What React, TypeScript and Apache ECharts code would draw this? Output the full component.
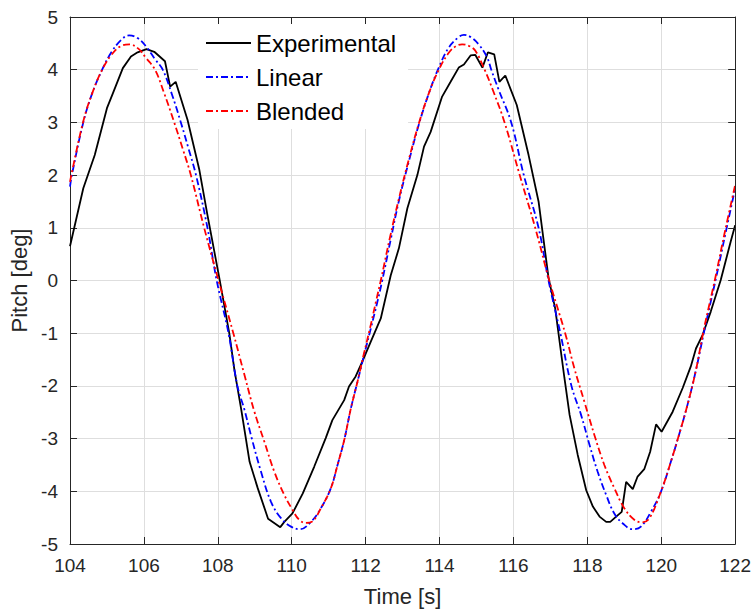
import React, { useEffect, useRef } from "react";
import * as echarts from "echarts";

// Experimental (black)
const timeExp = [104.0, 104.36, 104.67, 105.0, 105.16, 105.43, 105.65, 105.83, 106.07, 106.28, 106.57, 106.71, 106.86, 107.18, 107.5, 107.72, 108.04, 108.31, 108.45, 108.63, 108.86, 109.08, 109.36, 109.69, 109.8, 110.02, 110.3, 110.61, 110.92, 111.1, 111.42, 111.55, 111.73, 111.91, 112.14, 112.41, 112.68, 112.9, 113.13, 113.4, 113.58, 113.76, 114.07, 114.3, 114.52, 114.66, 114.84, 114.97, 115.16, 115.31, 115.48, 115.62, 115.78, 116.09, 116.41, 116.68, 116.95, 117.13, 117.31, 117.38, 117.52, 117.74, 117.97, 118.15, 118.33, 118.51, 118.62, 118.78, 118.93, 119.05, 119.23, 119.36, 119.54, 119.7, 119.86, 120.01, 120.31, 120.58, 120.8, 120.94, 121.12, 121.34, 121.61, 121.88, 122.0];
const pitchExp = [0.65, 1.75, 2.38, 3.27, 3.55, 4.03, 4.25, 4.33, 4.39, 4.34, 4.16, 3.68, 3.77, 3.05, 2.1, 1.24, 0.05, -1.0, -1.7, -2.43, -3.44, -3.94, -4.52, -4.68, -4.58, -4.42, -4.04, -3.53, -2.99, -2.65, -2.27, -2.01, -1.82, -1.54, -1.16, -0.72, 0.1, 0.61, 1.37, 2.0, 2.54, 2.82, 3.49, 3.77, 4.04, 4.1, 4.27, 4.28, 4.04, 4.33, 4.29, 3.77, 3.89, 3.33, 2.38, 1.5, 0.05, -0.53, -1.48, -1.85, -2.55, -3.31, -3.98, -4.29, -4.48, -4.58, -4.58, -4.48, -4.39, -3.82, -3.96, -3.72, -3.58, -3.25, -2.73, -2.87, -2.49, -2.04, -1.63, -1.29, -1.03, -0.59, 0.01, 0.74, 1.05];

// Linear (blue)
const timeLin = [104.0, 104.05, 104.36, 104.6, 104.87, 105.12, 105.38, 105.6, 105.83, 106.06, 106.3, 106.51, 106.75, 107.0, 107.2, 107.41, 107.72, 107.97, 108.29, 108.53, 108.72, 108.92, 109.17, 109.44, 109.71, 109.98, 110.22, 110.52, 110.79, 111.06, 111.24, 111.42, 111.6, 111.78, 111.96, 112.14, 112.32, 112.45, 112.68, 112.9, 113.17, 113.44, 113.71, 113.98, 114.25, 114.52, 114.66, 114.84, 115.06, 115.29, 115.4, 115.6, 115.94, 116.28, 116.68, 116.95, 117.27, 117.57, 117.83, 118.06, 118.28, 118.51, 118.73, 118.96, 119.23, 119.45, 119.72, 119.99, 120.26, 120.48, 120.71, 120.93, 121.16, 121.34, 121.48, 121.75, 122.0];
const pitchLin = [1.78, 2.0, 3.0, 3.55, 4.0, 4.33, 4.56, 4.65, 4.6, 4.44, 4.2, 4.0, 3.55, 3.0, 2.52, 2.0, 1.0, 0.0, -1.0, -2.0, -2.45, -3.0, -3.63, -4.2, -4.51, -4.67, -4.72, -4.58, -4.32, -3.94, -3.5, -3.03, -2.43, -1.92, -1.41, -0.91, -0.4, 0.0, 0.78, 1.51, 2.26, 2.96, 3.55, 4.04, 4.42, 4.62, 4.66, 4.62, 4.48, 4.23, 4.0, 3.62, 3.0, 2.0, 1.0, 0.0, -1.0, -2.0, -2.55, -3.12, -3.63, -4.07, -4.42, -4.61, -4.72, -4.67, -4.39, -4.01, -3.44, -2.93, -2.36, -1.73, -0.97, -0.4, 0.04, 0.93, 1.75];

// Blended (red)
const timeBle = [104.0, 104.05, 104.36, 104.6, 104.87, 105.12, 105.38, 105.61, 105.85, 106.06, 106.3, 106.55, 106.82, 107.05, 107.27, 107.63, 108.02, 108.42, 108.72, 108.99, 109.26, 109.53, 109.8, 110.02, 110.2, 110.38, 110.56, 110.79, 111.06, 111.24, 111.42, 111.6, 111.78, 111.95, 112.12, 112.28, 112.41, 112.66, 112.9, 113.17, 113.44, 113.71, 113.98, 114.25, 114.45, 114.61, 114.8, 114.97, 115.22, 115.45, 115.76, 116.17, 116.59, 116.97, 117.4, 117.65, 117.92, 118.19, 118.46, 118.73, 119.0, 119.27, 119.48, 119.68, 119.99, 120.26, 120.48, 120.71, 120.93, 121.14, 121.32, 121.46, 121.73, 122.0];
const pitchBle = [1.87, 2.05, 3.02, 3.55, 4.0, 4.28, 4.45, 4.48, 4.4, 4.22, 4.0, 3.55, 3.0, 2.5, 2.0, 1.0, 0.0, -1.0, -1.79, -2.49, -3.06, -3.63, -4.07, -4.35, -4.54, -4.6, -4.57, -4.32, -3.94, -3.5, -3.03, -2.43, -1.92, -1.4, -0.9, -0.4, 0.0, 0.82, 1.55, 2.3, 2.98, 3.55, 4.0, 4.32, 4.45, 4.48, 4.45, 4.36, 4.0, 3.6, 3.0, 2.0, 1.0, 0.0, -1.0, -1.67, -2.3, -2.93, -3.5, -3.94, -4.32, -4.54, -4.59, -4.51, -4.01, -3.44, -2.93, -2.36, -1.73, -0.97, -0.4, 0.04, 0.95, 1.81];

const seriesNames = ["Experimental", "Linear", "Blended"];
const xTicks = { min: 104, max: 122, interval: 2 };
const yTicks = { min: -5, max: 5, interval: 1 };

const zip = (t: number[], v: number[]) => t.map((x, i) => [x, v[i]]);

const FONT = "Liberation Sans, Arial, sans-serif";
const AXC = "#262626";

export default function App() {
  const ref = useRef<HTMLDivElement>(null);
  useEffect(() => {
    if (!ref.current) return;
    const chart = echarts.init(ref.current, undefined, { renderer: "svg" });
    const dashDot = [7, 3, 2, 3];
    const hiddenAxisCommon = {
      axisLabel: { show: false },
      splitLine: { show: false },
      axisLine: { show: true, onZero: false, lineStyle: { color: AXC, width: 1 } },
      axisTick: { show: true, inside: true, length: 7, lineStyle: { color: AXC } },
      z: 10,
    };
    chart.setOption({
      animation: false,
      backgroundColor: "#ffffff",
      grid: { left: 70, right: 17, top: 17, bottom: 72, containLabel: false },
      legend: {
        orient: "vertical",
        left: 198,
        top: 17,
        backgroundColor: "#ffffff",
        padding: [14, 12, 6, 7],
        itemWidth: 45,
        itemHeight: 14,
        itemGap: 10,
        data: seriesNames,
        itemStyle: { opacity: 0 },
        textStyle: { fontSize: 24, fontFamily: FONT, color: "#000", lineHeight: 24 },
      },
      xAxis: [
        {
          type: "value",
          ...xTicks,
          position: "bottom",
          name: "Time [s]",
          nameLocation: "middle",
          nameGap: 41,
          nameTextStyle: { fontSize: 22, fontFamily: FONT, color: AXC },
          axisLine: { show: true, onZero: false, lineStyle: { color: AXC, width: 1 } },
          axisTick: { show: true, inside: true, length: 7, lineStyle: { color: AXC } },
          axisLabel: { fontSize: 19, fontFamily: FONT, color: AXC, margin: 12 },
          splitLine: { show: true, lineStyle: { color: "#dedede", width: 1 } },
        },
        { type: "value", ...xTicks, position: "top", ...hiddenAxisCommon },
      ],
      yAxis: [
        {
          type: "value",
          ...yTicks,
          position: "left",
          name: "Pitch [deg]",
          nameLocation: "middle",
          nameGap: 37,
          nameRotate: 90,
          nameTextStyle: { fontSize: 22, fontFamily: FONT, color: AXC },
          axisLine: { show: true, onZero: false, lineStyle: { color: AXC, width: 1 } },
          axisTick: { show: true, inside: true, length: 7, lineStyle: { color: AXC } },
          axisLabel: { fontSize: 19, fontFamily: FONT, color: AXC, margin: 12 },
          splitLine: { show: true, lineStyle: { color: "#dedede", width: 1 } },
        },
        { type: "value", ...yTicks, position: "right", ...hiddenAxisCommon },
      ],
      series: [
        {
          name: seriesNames[0],
          type: "line",
          data: zip(timeExp, pitchExp),
          symbol: "none",
          showSymbol: false,
          smooth: false,
          lineStyle: { color: "#000000", width: 1.8, type: "solid" },
          itemStyle: { color: "#000000" },
        },
        {
          name: seriesNames[1],
          type: "line",
          data: zip(timeLin, pitchLin),
          symbol: "none",
          showSymbol: false,
          smooth: 0.4,
          lineStyle: { color: "#0000ff", width: 1.8, type: dashDot },
          itemStyle: { color: "#0000ff" },
        },
        {
          name: seriesNames[2],
          type: "line",
          data: zip(timeBle, pitchBle),
          symbol: "none",
          showSymbol: false,
          smooth: 0.4,
          lineStyle: { color: "#ff0000", width: 1.8, type: dashDot },
          itemStyle: { color: "#ff0000" },
        },
      ],
    });
    return () => chart.dispose();
  }, []);
  return (
    <div
      ref={ref}
      style={{ position: "absolute", left: 0, top: 0, width: 754, height: 616 }}
    />
  );
}
